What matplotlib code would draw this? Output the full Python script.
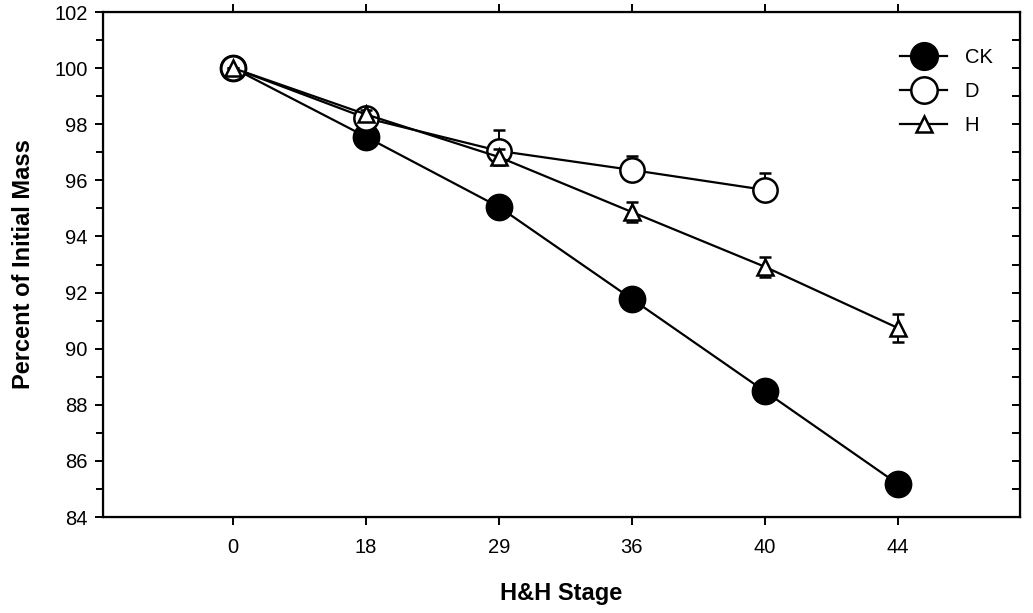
import numpy as np
import matplotlib.pyplot as plt
from matplotlib.ticker import MultipleLocator
from matplotlib.lines import Line2D

plt.rcParams['font.family'] = ['Liberation Sans', 'DejaVu Sans']

stages = ['0', '18', '29', '36', '40', '44']

ck = [100.0, 97.55, 95.05, 91.77, 88.48, 85.18]
ck_err = [0.0, 0.1, 0.1, 0.1, 0.1, 0.1]

d = [100.0, 98.22, 97.05, 96.37, 95.66]
d_err = [0.0, 0.2, 0.75, 0.5, 0.6]

h = [100.0, 98.35, 96.83, 94.87, 92.92, 90.74]
h_err = [0.0, 0.15, 0.3, 0.35, 0.35, 0.5]

fig = plt.figure(figsize=(10.33, 6.13), dpi=100)
ax = fig.add_axes([0.0997, 0.1566, 0.8877, 0.8238])

x = np.arange(len(stages))

ax.errorbar(x, ck, yerr=ck_err, color='black', marker='o', markersize=19,
            markerfacecolor='black', markeredgecolor='black', lw=1.6,
            capsize=4, elinewidth=1.4, capthick=1.4, zorder=3)
ax.errorbar(x[:len(d)], d, yerr=[np.zeros(len(d)), d_err], color='black', marker='o',
            markersize=17.5, markerfacecolor='white', markeredgecolor='black',
            markeredgewidth=1.8, lw=1.6, capsize=4, elinewidth=1.4, capthick=1.4,
            zorder=4)
ax.errorbar(x, h, yerr=h_err, color='black', marker='^', markersize=11.5,
            markerfacecolor='white', markeredgecolor='black', markeredgewidth=1.8,
            lw=1.6, capsize=4, elinewidth=1.4, capthick=1.4, zorder=5)

ax.set_xlim(-0.98, 5.92)
ax.set_ylim(84, 102)
ax.set_xticks(x)
ax.set_xticklabels(stages)
ax.yaxis.set_major_locator(MultipleLocator(2))
ax.yaxis.set_minor_locator(MultipleLocator(1))

for s in ax.spines.values():
    s.set_linewidth(1.6)

ax.tick_params(axis='both', which='major', labelsize=14.5, width=1.4, length=6,
               direction='out', top=True, right=False)
ax.tick_params(axis='y', which='minor', width=1.4, length=5, direction='out')
ax.tick_params(axis='x', which='major', pad=9)
ax.tick_params(axis='y', which='major', pad=5)

# inward ticks on right spine
axr = ax.twinx()
axr.set_ylim(84, 102)
axr.yaxis.set_major_locator(MultipleLocator(1))
axr.tick_params(axis='y', direction='in', length=6, width=1.4, labelright=False)

ax.set_xlabel('H&H Stage', fontsize=17, fontweight='bold', labelpad=18)
ax.set_ylabel('Percent of Initial Mass', fontsize=17, fontweight='bold', labelpad=14)

handles = [
    Line2D([], [], color='black', lw=1.6, marker='o', markersize=20,
           markerfacecolor='black', markeredgecolor='black'),
    Line2D([], [], color='black', lw=1.6, marker='o', markersize=19,
           markerfacecolor='white', markeredgecolor='black', markeredgewidth=1.8),
    Line2D([], [], color='black', lw=1.6, marker='^', markersize=12,
           markerfacecolor='white', markeredgecolor='black', markeredgewidth=1.8),
]
ax.legend(handles, ['CK', 'D', 'H'], loc='upper right', bbox_to_anchor=(0.99, 0.965),
          frameon=False, fontsize=14.5, handlelength=2.3, labelspacing=0.75,
          handletextpad=0.9)

fig.savefig('out.png', dpi=100)
